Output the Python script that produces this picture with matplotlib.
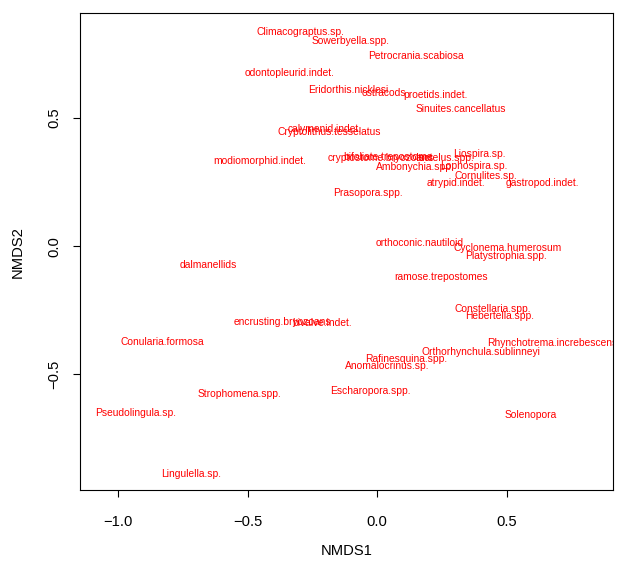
import matplotlib
matplotlib.use('Agg')
import matplotlib.pyplot as plt

plt.rcParams['font.family'] = ['Liberation Sans', 'DejaVu Sans']

# species scores (NMDS1, NMDS2)
species = ['Climacograptus.sp.', 'Sowerbyella.spp.', 'Petrocrania.scabiosa',
           'odontopleurid.indet.', 'Eridorthis.nicklesi', 'ostracods',
           'proetids.indet.', 'Sinuites.cancellatus', 'calymenid.indet.',
           'Cryptolithus.tesselatus', 'modiomorphid.indet.',
           'cryptostome.bryozoans', 'bifoliate.trepostome', 'Isotelus.spp.',
           'Liospira.sp.', 'Ambonychia.spp.', 'Lophospira.sp.', 'Cornulites.sp.',
           'atrypid.indet.', 'gastropod.indet.', 'Prasopora.spp.',
           'orthoconic.nautiloid', 'Cyclonema.humerosum', 'Platystrophia.spp.',
           'ramose.trepostomes', 'Constellaria.spp.', 'Hebertella.spp.',
           'Rhynchotrema.increbescens', 'Orthorhynchula.sublinneyi',
           'Rafinesquina.spp.', 'Anomalocrinus.sp.', 'Escharopora.spp.',
           'dalmanellids', 'encrusting.bryozoans', 'bivalve.indet.',
           'Conularia.formosa', 'Strophomena.spp.', 'Pseudolingula.sp.',
           'Solenopora', 'Lingulella.sp.']
nmds1 = [-0.298, -0.104, 0.151, -0.340, -0.112, 0.027, 0.224, 0.325, -0.201,
         -0.186, -0.452, 0.015, 0.043, 0.263, 0.394, 0.147, 0.375, 0.421,
         0.305, 0.638, -0.035, 0.166, 0.506, 0.499, 0.247, 0.448, 0.472,
         0.676, 0.402, 0.112, 0.039, -0.027, -0.653, -0.367, -0.213, -0.831,
         -0.530, -0.932, 0.595, -0.719]
nmds2 = [0.834, 0.799, 0.741, 0.674, 0.608, 0.596, 0.589, 0.534, 0.456,
         0.444, 0.331, 0.343, 0.347, 0.343, 0.359, 0.308, 0.312, 0.273,
         0.246, 0.246, 0.207, 0.012, -0.008, -0.039, -0.121, -0.246, -0.273,
         -0.378, -0.413, -0.441, -0.468, -0.565, -0.074, -0.296, -0.300,
         -0.374, -0.577, -0.651, -0.659, -0.889]

xticks = [-1.0, -0.5, 0.0, 0.5]
yticks = [-0.5, 0.0, 0.5]

fig = plt.figure(figsize=(6.25, 5.7), dpi=100)
ax = fig.add_axes([0.128, 0.140, 0.853, 0.837])

for name, x, y in zip(species, nmds1, nmds2):
    ax.text(x, y, name, color='red', fontsize=7.4, ha='center', va='center',
            clip_on=True)

ax.set_xlim(-1.148, 0.912)
ax.set_ylim(-0.951, 0.908)
ax.set_xticks(xticks)
ax.set_xticklabels(['\u22121.0', '\u22120.5', '0.0', '0.5'])
ax.set_yticks(yticks)
ax.set_yticklabels(['\u22120.5', '0.0', '0.5'], rotation=90, va='center')
ax.tick_params(direction='out', length=5, width=0.8, labelsize=10.6)
ax.tick_params(axis='x', pad=13)
ax.tick_params(axis='y', pad=8.5)
ax.set_xlabel('NMDS1', fontsize=10.6, labelpad=11)
ax.set_ylabel('NMDS2', fontsize=10.6, labelpad=16)
for s in ax.spines.values():
    s.set_linewidth(0.8)

fig.savefig('out.png', dpi=100)
